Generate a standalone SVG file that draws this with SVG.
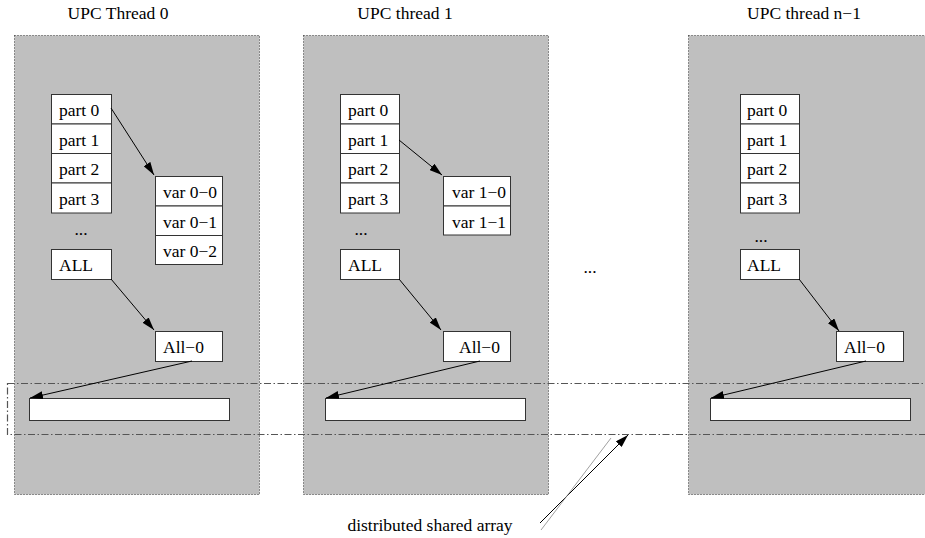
<svg xmlns="http://www.w3.org/2000/svg" width="925" height="538" viewBox="0 0 925 538">
<defs>
<style>
text{font-family:"Liberation Serif","Times New Roman",serif;font-size:17.5px;fill:#000}
.panel{fill:#bfbfbf;stroke:#333;stroke-width:1;stroke-dasharray:1 2}
.box{fill:#fff;stroke:#333;stroke-width:1}
.conn{stroke:#000;stroke-width:1;fill:none;marker-end:url(#ah)}
.dd{fill:none;stroke:#555;stroke-width:1.2;stroke-dasharray:7 2.5 1.5 2.5}
</style>
<marker id="ah" viewBox="0 0 13 8" refX="13" refY="4" markerWidth="13" markerHeight="8" markerUnits="userSpaceOnUse" orient="auto">
<path d="M0,0 L13,4 L0,8 Z" fill="#000"/>
</marker>
</defs>
<g id="thread0">
<text x="118" y="19" text-anchor="middle">UPC Thread 0</text>
<rect class="panel" x="14.5" y="35.5" width="245" height="459"/>
</g>
<g id="thread1">
<text x="405" y="19" text-anchor="middle">UPC thread 1</text>
<rect class="panel" x="303.5" y="35.5" width="245" height="459"/>
</g>
<g id="threadn1">
<text x="804" y="19" text-anchor="middle">UPC thread n−1</text>
<rect class="panel" x="688.5" y="35.5" width="245" height="459"/>
</g>
<g id="sharedregion">
<rect class="dd" x="7.5" y="383.5" width="940" height="51"/>
</g>
<g id="parts0">
<rect class="box" x="51.5" y="94.5" width="60" height="29.5"/><text x="59" y="116">part 0</text>
<rect class="box" x="51.5" y="124" width="60" height="29.5"/><text x="59" y="146">part 1</text>
<rect class="box" x="51.5" y="153.5" width="60" height="29.5"/><text x="59" y="175">part 2</text>
<rect class="box" x="51.5" y="183" width="60" height="30"/><text x="59" y="205">part 3</text>
<text x="81" y="235" text-anchor="middle">...</text>
</g>
<g id="vars0">
<rect class="box" x="155.5" y="176.5" width="67" height="29.5"/><text x="163" y="198">var 0−0</text>
<rect class="box" x="155.5" y="206" width="67" height="29.5"/><text x="163" y="228">var 0−1</text>
<rect class="box" x="155.5" y="235.5" width="67" height="29"/><text x="163" y="257">var 0−2</text>
</g>
<g id="all0"><rect class="box" x="51.5" y="249.5" width="60" height="30"/><text x="59" y="271">ALL</text></g>
<g id="allzero0"><rect class="box" x="155.5" y="331.5" width="67" height="30"/><text x="163" y="353">All−0</text></g>
<g id="array0"><rect class="box" x="29.5" y="398.5" width="200" height="22"/></g>
<g id="parts1">
<rect class="box" x="340.5" y="94.5" width="59" height="29.5"/><text x="348" y="116">part 0</text>
<rect class="box" x="340.5" y="124" width="59" height="29.5"/><text x="348" y="146">part 1</text>
<rect class="box" x="340.5" y="153.5" width="59" height="29.5"/><text x="348" y="175">part 2</text>
<rect class="box" x="340.5" y="183" width="59" height="30"/><text x="348" y="205">part 3</text>
<text x="361" y="235" text-anchor="middle">...</text>
</g>
<g id="vars1">
<rect class="box" x="443.5" y="176.5" width="67" height="29.5"/><text x="452" y="198">var 1−0</text>
<rect class="box" x="443.5" y="206" width="67" height="29"/><text x="452" y="228">var 1−1</text>
</g>
<g id="all1"><rect class="box" x="340.5" y="249.5" width="59" height="30"/><text x="348" y="271">ALL</text></g>
<g id="allzero1"><rect class="box" x="443.5" y="331.5" width="67" height="30"/><text x="459" y="353">All−0</text></g>
<g id="array1"><rect class="box" x="325.5" y="398.5" width="200" height="22"/></g>
<g id="partsn">
<rect class="box" x="740.5" y="94.5" width="59" height="29.5"/><text x="747" y="116">part 0</text>
<rect class="box" x="740.5" y="124" width="59" height="29.5"/><text x="747" y="146">part 1</text>
<rect class="box" x="740.5" y="153.5" width="59" height="29.5"/><text x="747" y="175">part 2</text>
<rect class="box" x="740.5" y="183" width="59" height="30"/><text x="747" y="205">part 3</text>
<text x="761" y="242" text-anchor="middle">...</text>
</g>
<g id="alln"><rect class="box" x="740.5" y="249.5" width="59" height="30"/><text x="747" y="271">ALL</text></g>
<g id="allzeron"><rect class="box" x="836.5" y="331.5" width="67" height="30"/><text x="844" y="353">All−0</text></g>
<g id="arrayn"><rect class="box" x="710.5" y="398.5" width="200" height="22"/></g>
<g id="middots"><text x="590" y="273" text-anchor="middle">...</text></g>
<g id="label"><text x="430" y="531" text-anchor="middle">distributed shared array</text></g>
<g id="connectors">
<line class="conn" x1="111" y1="108" x2="154" y2="175"/>
<line class="conn" x1="111" y1="279" x2="154" y2="330"/>
<line class="conn" x1="192" y1="361" x2="30" y2="398"/>
<line class="conn" x1="399" y1="140" x2="442" y2="175"/>
<line class="conn" x1="399" y1="279" x2="441" y2="330"/>
<line class="conn" x1="480" y1="361" x2="326" y2="398"/>
<line class="conn" x1="799" y1="279" x2="839" y2="331"/>
<line class="conn" x1="866" y1="361" x2="711" y2="398"/>
<line class="conn" x1="540" y1="523" x2="628" y2="435"/>
<line x1="541" y1="530" x2="611" y2="438" stroke="#888" stroke-width="0.8"/>
</g>
</svg>
